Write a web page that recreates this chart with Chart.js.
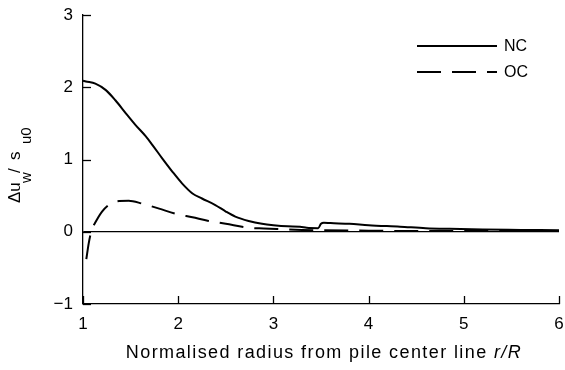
<!DOCTYPE html>
<html><head><meta charset="utf-8">
<script src="https://cdn.jsdelivr.net/npm/chart.js@4/dist/chart.umd.min.js"></script>
<style>html,body{margin:0;padding:0;background:#fff;overflow:hidden}#wrap{width:565px;height:370px}</style>
</head><body><div id="wrap"><canvas id="c" width="565" height="370"></canvas></div>
<script>
// ---- data ----
const ncX = [1.00, 1.03, 1.13, 1.24, 1.34, 1.45, 1.55, 1.66, 1.73, 1.83, 1.94, 2.04, 2.15, 2.25, 2.39, 2.50, 2.60, 2.74, 2.88, 3.00, 3.15, 3.28, 3.35, 3.47, 3.50, 3.53, 3.60, 3.80, 4.00, 4.33, 4.60, 4.85, 5.20, 5.60, 6.00];
const ncY = [2.09, 2.08, 2.05, 1.96, 1.82, 1.64, 1.48, 1.32, 1.20, 1.02, 0.83, 0.67, 0.53, 0.46, 0.37, 0.28, 0.21, 0.15, 0.11, 0.09, 0.075, 0.07, 0.055, 0.05, 0.11, 0.125, 0.12, 0.11, 0.09, 0.07, 0.05, 0.04, 0.03, 0.025, 0.02];
const ocX = [1.035, 1.06, 1.09, 1.126, 1.20, 1.29, 1.38, 1.48, 1.62, 1.80, 1.97, 2.15, 2.32, 2.50, 2.74, 2.90, 3.10, 3.30, 3.50, 4.00, 4.50, 5.00, 5.50, 6.00];
const ocY = [-0.38, -0.16, 0.02, 0.12, 0.28, 0.39, 0.425, 0.43, 0.39, 0.32, 0.25, 0.20, 0.15, 0.11, 0.055, 0.045, 0.035, 0.025, 0.02, 0.015, 0.01, 0.01, 0.01, 0.01];
const xTicks = [1, 2, 3, 4, 5, 6];
const yTicks = [-1, 0, 1, 2, 3];
const seriesLabels = ['NC', 'OC'];
const xTitleMain = 'Normalised radius from pile center line ';
const xTitleItalic = 'r/R';
const yTitleParts = ['\u0394u', 'w', '/', 's', 'u0'];

const FONT = '"Liberation Sans", Arial, sans-serif';

const insideTicks = {
  id: 'insideTicks',
  afterDraw(chart) {
    const ctx = chart.ctx, a = chart.chartArea, xs = chart.scales.x, ys = chart.scales.y;
    ctx.save();
    ctx.strokeStyle = '#000'; ctx.lineWidth = 1.3;
    xs.ticks.forEach(t => {
      const p = Math.round(xs.getPixelForValue(t.value)) + 0.5;
      ctx.beginPath(); ctx.moveTo(p, a.bottom); ctx.lineTo(p, a.bottom - 8); ctx.stroke();
    });
    ys.ticks.forEach(t => {
      const p = Math.round(ys.getPixelForValue(t.value)) + 0.5;
      ctx.beginPath(); ctx.moveTo(a.left, p); ctx.lineTo(a.left + 8, p); ctx.stroke();
    });
    ctx.restore();
  }
};

const titles = {
  id: 'titles',
  afterDraw(chart) {
    const ctx = chart.ctx, a = chart.chartArea;
    ctx.save();
    ctx.fillStyle = '#000';
    // x title
    ctx.textBaseline = 'alphabetic';
    ctx.letterSpacing = '1.4px';
    ctx.font = '18px ' + FONT;
    const w1 = ctx.measureText(xTitleMain).width;
    ctx.font = 'italic 18px ' + FONT;
    const w2 = ctx.measureText(xTitleItalic).width;
    let x0 = (a.left + a.right) / 2 + 3 - (w1 + w2) / 2;
    ctx.textAlign = 'left';
    ctx.font = '18px ' + FONT;
    ctx.fillText(xTitleMain, x0, 358);
    ctx.font = 'italic 18px ' + FONT;
    ctx.fillText(xTitleItalic, x0 + w1, 358);
    ctx.letterSpacing = '0px';
    // y title (rotated, with subscripts)
    ctx.translate(20, 203);
    ctx.rotate(-Math.PI / 2);
    ctx.textAlign = 'left';
    ctx.font = '17px ' + FONT; ctx.fillText(yTitleParts[0], 0, 0);
    ctx.font = '15px ' + FONT; ctx.fillText(yTitleParts[1], 20, 11);
    ctx.font = '17px ' + FONT; ctx.fillText(yTitleParts[2], 30, 0);
    ctx.font = '17px ' + FONT; ctx.fillText(yTitleParts[3], 43, 0);
    ctx.font = '15px ' + FONT; ctx.fillText(yTitleParts[4], 59, 11);
    ctx.restore();
  }
};

const legendBox = {
  id: 'legendBox',
  afterDraw(chart) {
    const ctx = chart.ctx;
    ctx.save();
    const rows = [46, 72];
    chart.data.datasets.forEach((ds, i) => {
      const y = rows[i];
      ctx.strokeStyle = ds.borderColor; ctx.lineWidth = ds.borderWidth;
      ctx.setLineDash(ds.borderDash || []);
      ctx.beginPath(); ctx.moveTo(417, y); ctx.lineTo(497, y); ctx.stroke();
      ctx.setLineDash([]);
      ctx.fillStyle = '#000'; ctx.font = '16px ' + FONT;
      ctx.textBaseline = 'middle'; ctx.textAlign = 'left';
      ctx.fillText(ds.label, 504, y + 1);
    });
    ctx.restore();
  }
};

new Chart(document.getElementById('c'), {
  type: 'line',
  data: {
    datasets: [
      { label: seriesLabels[0], data: ncX.map((x, i) => ({ x, y: ncY[i] })), borderColor: '#000', borderWidth: 2, pointRadius: 0, cubicInterpolationMode: 'monotone', fill: false },
      { label: seriesLabels[1], data: ocX.map((x, i) => ({ x, y: ocY[i] })), borderColor: '#000', borderWidth: 2, borderDash: [24, 11], pointRadius: 0, cubicInterpolationMode: 'monotone', fill: false }
    ]
  },
  options: {
    responsive: false, animation: false, devicePixelRatio: 1,
    layout: { padding: { top: 15, right: 6, left: 0, bottom: 0 } },
    plugins: { legend: { display: false }, tooltip: { enabled: false } },
    scales: {
      x: {
        type: 'linear', min: 1, max: 6,
        afterBuildTicks: s => { s.ticks = xTicks.map(v => ({ value: v })); },
        afterFit: s => { s.height = 66; s.paddingLeft = 0; s.paddingRight = 0; },
        ticks: { color: '#000', font: { family: FONT, size: 17 }, padding: 10, maxRotation: 0 },
        grid: { display: false, drawTicks: false },
        border: { display: true, color: '#000', width: 1.3 }
      },
      y: {
        type: 'linear', min: -1, max: 3,
        afterBuildTicks: s => { s.ticks = yTicks.map(v => ({ value: v })); },
        afterFit: s => { s.width = 83; s.paddingTop = 0; s.paddingBottom = 0; },
        ticks: { color: '#000', font: { family: FONT, size: 17 }, padding: 10, callback: v => v < 0 ? '\u2212' + Math.abs(v) : String(v) },
        grid: { drawTicks: false, color: c => (c.tick && c.tick.value === 0) ? '#000' : 'rgba(0,0,0,0)', lineWidth: 1.3 },
        border: { display: true, color: '#000', width: 1.3 }
      }
    }
  },
  plugins: [insideTicks, titles, legendBox]
});
</script></body></html>
